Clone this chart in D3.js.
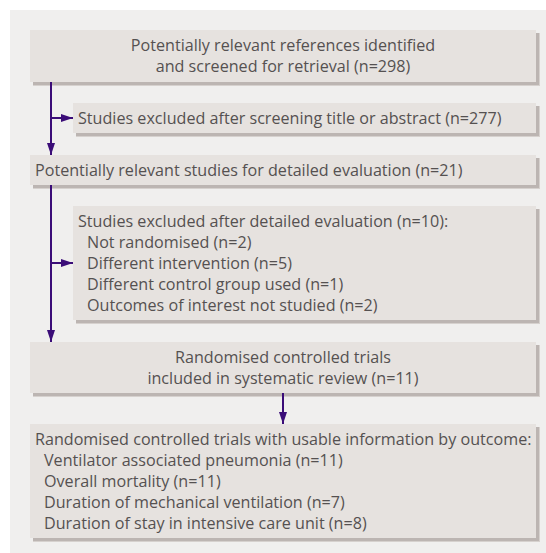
<!DOCTYPE html>
<html><head><meta charset="utf-8">
<script src="https://cdn.jsdelivr.net/npm/d3@7"></script>
<style>body{margin:0;background:#fff}text{font-family:"Open Sans",sans-serif;fill:#555151}</style>
</head><body><svg id="c" width="546" height="553"></svg>
<script>
const boxIds = ["refs","excl1","detail","excl2","rcts","usable"];
const boxLines = [
  ["Potentially relevant references identified","and screened for retrieval (n=298)"],
  ["Studies excluded after screening title or abstract (n=277)"],
  ["Potentially relevant studies for detailed evaluation (n=21)"],
  ["Studies excluded after detailed evaluation (n=10):"," Not randomised (n=2)"," Different intervention (n=5)"," Different control group used (n=1)"," Outcomes of interest not studied (n=2)"],
  ["Randomised controlled trials","included in systematic review (n=11)"],
  ["Randomised controlled trials with usable information by outcome:"," Ventilator associated pneumonia (n=11)"," Overall mortality (n=11)"," Duration of mechanical ventilation (n=7)"," Duration of stay in intensive care unit (n=8)"]
];
const boxAlign = ["middle","start","start","start","middle","start"];
const boxLeft = [30,73,30,73,30,30];
const boxTop = [30,103,155,206,342,424];
const boxBottom = [82,133,185,320,393,538];
const boxRight = 536;

const svg = d3.select("#c");
svg.append("rect").attr("x",10).attr("y",10).attr("width",536).attr("height",543).attr("fill","#f0efee");

// fit font size so the longest line matches the reference width (~497px)
const probe = svg.append("text").style("font-size","15px").text(boxLines[5][0]);
const w15 = probe.node().getComputedTextLength();
probe.remove();
const fs = 15*497/w15;

const g = svg.append("g");
boxIds.forEach((id,i)=>{
  const x0=boxLeft[i], y0=boxTop[i], w=boxRight-x0, h=boxBottom[i]-y0;
  g.append("rect").attr("x",x0+3).attr("y",y0+3).attr("width",w+1).attr("height",h+1).attr("fill","#d6d1ce");
  g.append("rect").attr("x",x0+3).attr("y",y0+3).attr("width",w).attr("height",h).attr("fill","#bcb5b2");
  g.append("rect").attr("x",x0).attr("y",y0).attr("width",w).attr("height",h).attr("fill","#e6e2df");
  const lines = boxLines[i];
  const lh = 21;
  const firstBase = y0 + 21;
  lines.forEach((ln,j)=>{
    const indent = ln.startsWith(" ");
    const t = g.append("text")
      .style("font-size", fs+"px")
      .attr("y", firstBase + j*lh)
      .attr("text-anchor", boxAlign[i])
      .text(ln.trim());
    if (boxAlign[i]==="middle") t.attr("x",(x0+boxRight)/2);
    else t.attr("x", x0 + 5 + (indent?9:0));
  });
});

svg.append("defs").append("marker").attr("id","ah").attr("viewBox","0 0 12 8")
  .attr("refX",12).attr("refY",4).attr("markerWidth",12).attr("markerHeight",8)
  .attr("markerUnits","userSpaceOnUse").attr("orient","auto")
  .append("path").attr("d","M0,0L12,4L0,8Z").attr("fill","#3b0d78");

const arrows = [
  [51,82,51,155],
  [51,118,73,118],
  [51,185,51,342],
  [51,263,73,263],
  [283,393,283,424]
];
arrows.forEach(a=>{
  svg.append("line").attr("x1",a[0]).attr("y1",a[1]).attr("x2",a[2]).attr("y2",a[3])
    .attr("stroke","#3b0d78").attr("stroke-width",2).attr("marker-end","url(#ah)");
});
</script></body></html>
